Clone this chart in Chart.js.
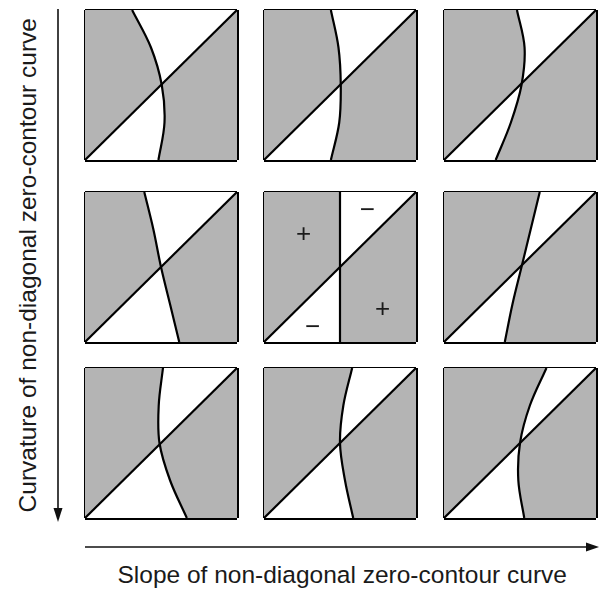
<!DOCTYPE html>
<html>
<head>
<meta charset="utf-8">
<script src="https://cdn.jsdelivr.net/npm/chart.js@4.4.1/dist/chart.umd.min.js"></script>
<style>
  body { margin: 0; background: #fff; width: 599px; height: 597px; position: relative; overflow: hidden;
         font-family: "Liberation Sans", Arial, sans-serif; color: #1a1a1a; }
  canvas { position: absolute; }
  .lbl { position: absolute; font-size: 24.5px; white-space: nowrap; line-height: 1; }
  .sign { position: absolute; font-size: 26px; line-height: 1; transform: translate(-50%, -50%); }
  svg { position: absolute; left: 0; top: 0; }
</style>
</head>
<body>
<svg width="599" height="597">
  <line x1="58" y1="9" x2="58" y2="510" stroke="#111" stroke-width="1.6"/>
  <polygon points="53.5,508 62.5,508 58,522" fill="#111"/>
  <line x1="85" y1="547" x2="588" y2="547" stroke="#111" stroke-width="1.6"/>
  <polygon points="586,542.5 586,551.5 599,547" fill="#111"/>
</svg>
<div class="lbl" id="ylbl">Curvature of non-diagonal zero-contour curve</div>
<div class="lbl" id="xlbl">Slope of non-diagonal zero-contour curve</div>

<script>
// y positions (bottom to top of each square) where the curve was read
const curveY = [0, 0.25, 0.5, 0.75, 1];

// x position of the non-diagonal zero-contour curve at each curveY
const topLeft  = [0.483, 0.523, 0.505, 0.434, 0.31];
const topMid   = [0.44, 0.495, 0.505, 0.49, 0.44];
const topRight = [0.34, 0.44, 0.51, 0.53, 0.48];
const midLeft  = [0.62, 0.56, 0.50, 0.45, 0.39];
const midMid   = [0.50, 0.50, 0.50, 0.50, 0.50];
const midRight = [0.40, 0.45, 0.51, 0.57, 0.63];
const botLeft  = [0.67, 0.56, 0.49, 0.485, 0.513];
const botMid   = [0.587, 0.533, 0.50, 0.522, 0.58];
const botRight = [0.528, 0.489, 0.50, 0.565, 0.674];

// the diagonal zero-contour
const diagX = [0, 1];
const diagY = [0, 1];

// sign labels in the centre square
const signText = ['+', '\u2212', '+', '\u2212'];
const signX = [0.26, 0.68, 0.78, 0.32];
const signY = [0.73, 0.89, 0.23, 0.11];

const curves = [topLeft, topMid, topRight, midLeft, midMid, midRight, botLeft, botMid, botRight];
const colLeft = [85, 264, 444];
const rowTop = [10, 192, 368];
const boxW = 152, boxH = 150, pad = 4;
const gray = '#b4b4b4';

function makePanel(idx) {
  const xs = curves[idx];
  const col = idx % 3, row = Math.floor(idx / 3);
  const canvas = document.createElement('canvas');
  canvas.width = boxW + 2 * pad;
  canvas.height = boxH + 2 * pad;
  canvas.style.left = (colLeft[col] - pad) + 'px';
  canvas.style.top = (rowTop[row] - pad) + 'px';
  document.body.appendChild(canvas);

  const curve = curveY.map((y, i) => ({ x: xs[i], y: y }));
  const diag = diagX.map((x, i) => ({ x: x, y: diagY[i] }));
  const edge = [{ x: 1, y: 0 }, { x: 1, y: 1 }];

  const axis = {
    type: 'linear', min: 0, max: 1, z: 1,
    ticks: { display: false, stepSize: 1 },
    grid: { color: '#000', lineWidth: 3, drawTicks: false },
    border: { display: false }
  };

  const chart = new Chart(canvas, {
    type: 'line',
    data: {
      datasets: [
        // white area lies between the curve and the diagonal
        { data: curve, borderColor: '#000', borderWidth: 2.2, tension: 0.35, fill: 1, backgroundColor: '#fff', order: 2 },
        { data: diag, borderColor: '#000', borderWidth: 2.2, fill: false, order: 1 },
        // grey background of the square
        { data: edge, borderWidth: 0, borderColor: 'rgba(0,0,0,0)', fill: { value: 0 }, backgroundColor: gray, order: 3 }
      ]
    },
    options: {
      indexAxis: 'y',
      responsive: false,
      animation: false,
      events: [],
      layout: { padding: pad },
      elements: { point: { radius: 0 } },
      plugins: { legend: { display: false }, tooltip: { enabled: false } },
      scales: { x: axis, y: Object.assign({}, axis) }
    }
  });
  return { chart, canvas };
}

const panels = [];
for (let i = 0; i < 9; i++) panels.push(makePanel(i));

// place the +/- signs in the centre square using its scales
const centre = panels[4];
signText.forEach((t, i) => {
  const d = document.createElement('div');
  d.className = 'sign';
  d.textContent = t;
  d.style.left = (parseFloat(centre.canvas.style.left) + centre.chart.scales.x.getPixelForValue(signX[i])) + 'px';
  d.style.top = (parseFloat(centre.canvas.style.top) + centre.chart.scales.y.getPixelForValue(signY[i])) + 'px';
  document.body.appendChild(d);
});

// axis labels
const xl = document.getElementById('xlbl');
xl.style.left = (342 - xl.offsetWidth / 2) + 'px';
xl.style.top = (575 - xl.offsetHeight / 2) + 'px';
const yl = document.getElementById('ylbl');
yl.style.left = (28 - yl.offsetWidth / 2) + 'px';
yl.style.top = (265 - yl.offsetHeight / 2) + 'px';
yl.style.transform = 'rotate(-90deg)';
</script>
</body>
</html>
